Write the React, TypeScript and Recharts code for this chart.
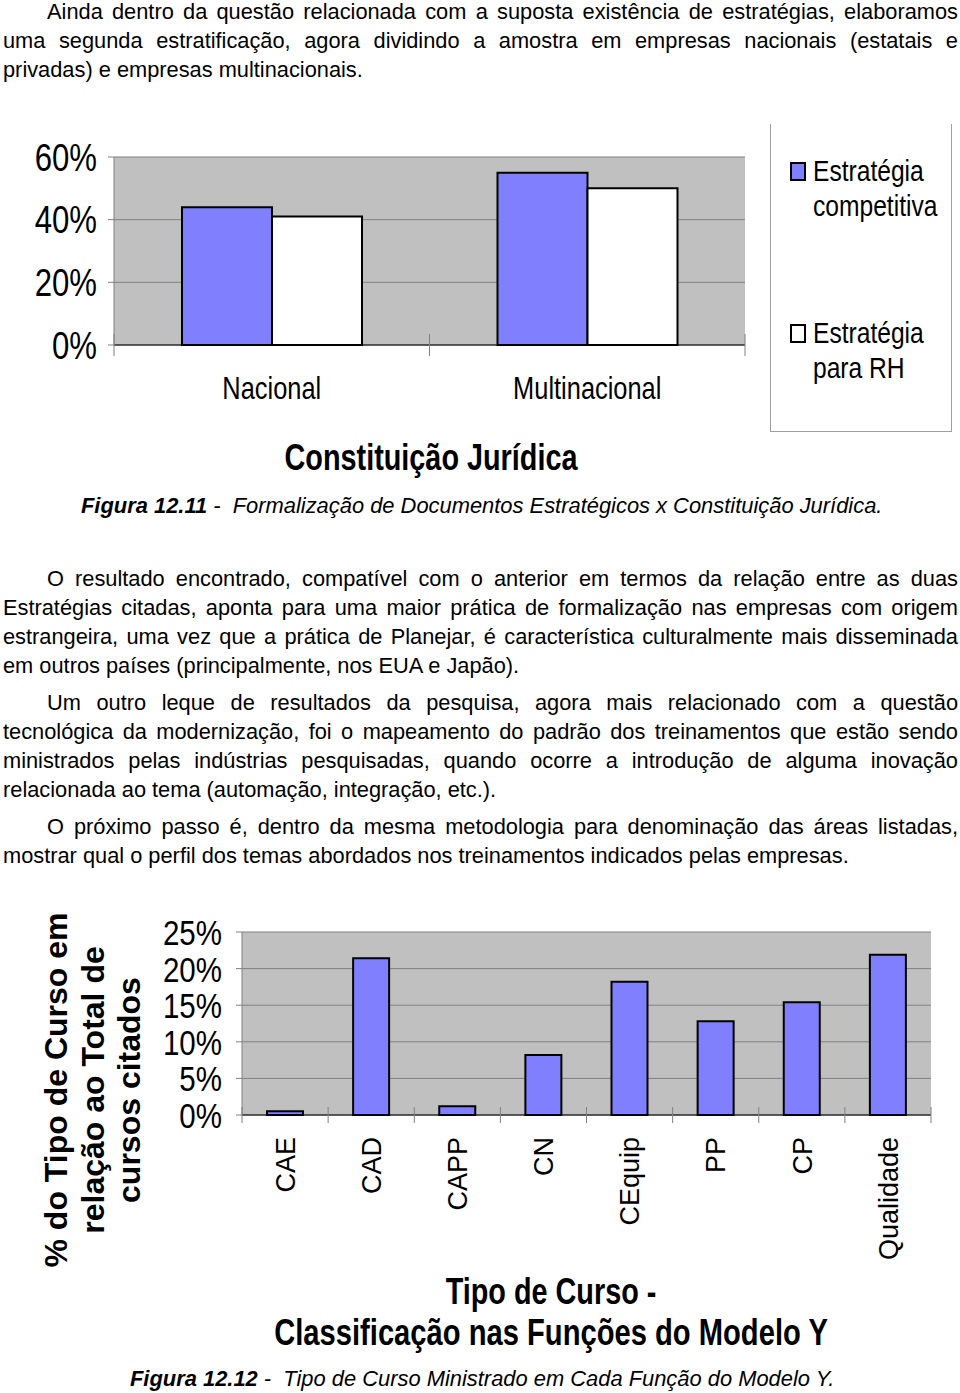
import React from 'react';
import { BarChart, Bar, XAxis, YAxis, CartesianGrid } from 'recharts';

const FONT = '"Liberation Sans", Arial, Helvetica, sans-serif';

// Figura 12.11 - Formalização x Constituição Jurídica
const tiposEmpresa = ['Nacional', 'Multinacional'];
const estrategiaCompetitiva = [44, 55];
const estrategiaRH = [41, 50];
const ticksFig11 = [0, 20, 40, 60];
const legendaFig11 = [
  ['Estratégia', 'competitiva'],
  ['Estratégia', 'para RH'],
];

// Figura 12.12 - Tipo de curso
const tiposCurso = ['CAE', 'CAD', 'CAPP', 'CN', 'CEquip', 'PP', 'CP', 'Qualidade'];
const percentCurso = [0.5, 21.4, 1.2, 8.2, 18.2, 12.8, 15.4, 21.9];
const ticksFig12 = [0, 5, 10, 15, 20, 25];

const BLUE = '#8080FF';
const PLOT_BG = '#C0C0C0';
const GRID = '#808080';

const data11 = tiposEmpresa.map((name, i) => ({
  name,
  competitiva: estrategiaCompetitiva[i],
  rh: estrategiaRH[i],
}));
const data12 = tiposCurso.map((name, i) => ({ name, valor: percentCurso[i] }));

// texto do documento
const paragrafos = [
  {
    y: [11, 40, 69],
    lines: [
      'Ainda dentro da questão relacionada com a suposta existência de estratégias, elaboramos',
      'uma segunda estratificação, agora dividindo a amostra em empresas nacionais (estatais e',
      'privadas) e empresas multinacionais.',
    ],
  },
  {
    y: [578, 607, 636, 665],
    lines: [
      'O resultado encontrado, compatível com o anterior em termos da relação entre as duas',
      'Estratégias citadas, aponta para uma maior prática de formalização nas empresas com origem',
      'estrangeira, uma vez que a prática de Planejar, é característica culturalmente mais disseminada',
      'em outros países (principalmente, nos EUA e Japão).',
    ],
  },
  {
    y: [702, 731, 760, 789],
    lines: [
      'Um outro leque de resultados da pesquisa, agora mais relacionado com a questão',
      'tecnológica da modernização, foi o mapeamento do padrão dos treinamentos que estão sendo',
      'ministrados pelas indústrias pesquisadas, quando ocorre a introdução de alguma inovação',
      'relacionada ao tema (automação, integração, etc.).',
    ],
  },
  {
    y: [826, 855],
    lines: [
      'O próximo passo é, dentro da mesma metodologia para denominação das áreas listadas,',
      'mostrar qual o perfil dos temas abordados nos treinamentos indicados pelas empresas.',
    ],
  },
];

const narrowY = (size: number) => (props: any) => {
  const { x, y, payload } = props;
  return (
    <g transform={`translate(${x},${y})`}>
      <text transform="scale(0.82,1)" textAnchor="end" dy="0.36em" fontSize={size} fontFamily={FONT} fill="#000">
        {payload.value}%
      </text>
    </g>
  );
};

// ticks nas divisas das categorias + rótulo
const catTick = (n: number, plotW: number, rotated: boolean, tk: number) => (props: any) => {
  const { x, y, payload, index } = props;
  const half = payload.offset || plotW / (2 * n);
  const last = index === n - 1;
  return (
    <g>
      <line x1={x - half} x2={x - half} y1={y - tk} y2={y + tk} stroke={GRID} />
      {last && <line x1={x + half} x2={x + half} y1={y - tk} y2={y + tk} stroke={GRID} />}
      {rotated ? (
        <text
          transform={`translate(${x},${y + 22}) rotate(-90)`}
          textAnchor="end"
          dy="0.36em"
          fontSize={27}
          fontFamily={FONT}
          fill="#000"
        >
          {payload.value}
        </text>
      ) : (
        <g transform={`translate(${x},${y + 43})`}>
          <text transform="scale(0.82,1)" textAnchor="middle" dy="0.36em" fontSize={31} fontFamily={FONT} fill="#000">
            {payload.value}
          </text>
        </g>
      )}
    </g>
  );
};

const abs = (left: number, top: number, extra: React.CSSProperties = {}): React.CSSProperties => ({
  position: 'absolute',
  left,
  top,
  ...extra,
});

const narrowText = (cx: number, cy: number, size: number, bold: boolean, text: string, sx = 0.8) => (
  <div
    style={abs(cx, cy, {
      transform: `translate(-50%, -50%) scaleX(${sx})`,
      fontSize: size,
      fontWeight: bold ? 'bold' : 'normal',
      lineHeight: 1,
      whiteSpace: 'nowrap',
    })}
  >
    {text}
  </div>
);

const App: React.FC = () => {
  return (
    <div style={{ position: 'absolute', left: 0, top: 0, width: 960, height: 1393, background: '#fff', fontFamily: FONT, color: '#000', overflow: 'hidden' }}>
      {paragrafos.map((p, pi) =>
        p.lines.map((line, li) => {
          const lastLine = li === p.lines.length - 1;
          return (
            <div
              key={`${pi}-${li}`}
              style={abs(3, p.y[li] - 11, {
                width: 955 - (li === 0 ? 44 : 0),
                paddingLeft: li === 0 ? 44 : 0,
                height: 23,
                lineHeight: '23px',
                fontSize: 21.8,
                whiteSpace: 'nowrap',
                textAlign: lastLine ? 'left' : 'justify',
                textAlignLast: lastLine ? 'left' : 'justify',
              })}
            >
              {line}
            </div>
          );
        })
      )}

      {/* Figura 12.11 */}
      <div style={abs(0, 110)}>
        <BarChart width={760} height={300} data={data11} margin={{ top: 47, right: 15, bottom: 35, left: 0 }} barGap={0}>
          <CartesianGrid fill={PLOT_BG} stroke={GRID} vertical={false} />
          <XAxis
            dataKey="name"
            height={30}
            axisLine={{ stroke: '#000' }}
            tickLine={false}
            tickSize={0}
            tickMargin={0}
            interval={0}
            tick={catTick(tiposEmpresa.length, 631, false, 11)}
          />
          <YAxis
            width={114}
            domain={[0, 60]}
            ticks={ticksFig11}
            axisLine={{ stroke: GRID }}
            tickLine={{ stroke: GRID }}
            tickSize={6}
            tickMargin={11}
            tick={narrowY(38)}
          />
          <YAxis yAxisId="borda" orientation="right" width={0} domain={[0, 1]} tick={false} tickLine={false} axisLine={{ stroke: GRID }} />
          <Bar dataKey="competitiva" fill={BLUE} stroke="#000" strokeWidth={2} barSize={90} isAnimationActive={false} />
          <Bar dataKey="rh" fill="#FFFFFF" stroke="#000" strokeWidth={2} barSize={90} isAnimationActive={false} />
        </BarChart>
      </div>

      {/* legenda */}
      <div style={abs(770, 124, { width: 180, height: 307, borderLeft: '1px solid #A0A0A0', borderRight: '1px solid #A0A0A0', borderBottom: '1px solid #A0A0A0' })} />
      {legendaFig11.map((nome, i) => {
        const top = i === 0 ? 171 : 333;
        return (
          <React.Fragment key={i}>
            <div style={abs(790, top - 9, { width: 12, height: 15, border: '2px solid #000', background: i === 0 ? BLUE : '#fff' })} />
            {nome.map((t, j) => (
              <div
                key={j}
                style={abs(813, top + j * 35 - 17, {
                  fontSize: 30,
                  lineHeight: '34px',
                  whiteSpace: 'nowrap',
                  transform: 'scaleX(0.82)',
                  transformOrigin: 'left center',
                })}
              >
                {t}
              </div>
            ))}
          </React.Fragment>
        );
      })}

      {narrowText(431, 458, 36, true, 'Constituição Jurídica')}

      <div style={abs(81, 493, { fontSize: 21.9, lineHeight: '25px', fontStyle: 'italic', whiteSpace: 'nowrap' })}>
        <b>Figura 12.11</b> -&nbsp; Formalização de Documentos Estratégicos x Constituição Jurídica.
      </div>

      {/* Figura 12.12 */}
      <div style={abs(0, 880)}>
        <BarChart width={960} height={400} data={data12} margin={{ top: 52, right: 29, bottom: 135, left: 0 }}>
          <CartesianGrid fill={PLOT_BG} stroke={GRID} vertical={false} />
          <XAxis
            dataKey="name"
            height={30}
            axisLine={{ stroke: '#000' }}
            tickLine={false}
            tickSize={0}
            tickMargin={0}
            interval={0}
            tick={catTick(tiposCurso.length, 689, true, 8)}
          />
          <YAxis
            width={242}
            domain={[0, 25]}
            ticks={ticksFig12}
            axisLine={{ stroke: GRID }}
            tickLine={{ stroke: GRID }}
            tickSize={6}
            tickMargin={14}
            tick={narrowY(36)}
          />
          <YAxis yAxisId="borda" orientation="right" width={0} domain={[0, 1]} tick={false} tickLine={false} axisLine={{ stroke: GRID }} />
          <Bar dataKey="valor" fill={BLUE} stroke="#000" strokeWidth={2} barSize={36} isAnimationActive={false} />
        </BarChart>
      </div>

      {/* título do eixo Y, girado */}
      <div
        style={abs(93 - 210, 1090 - 55, {
          width: 420,
          height: 110,
          lineHeight: '36.5px',
          fontSize: 32,
          fontWeight: 'bold',
          textAlign: 'center',
          whiteSpace: 'nowrap',
          transform: 'rotate(-90deg)',
        })}
      >
        % do Tipo de Curso em
        <br />
        relação ao Total de
        <br />
        cursos citados
      </div>

      {narrowText(551, 1292, 36, true, 'Tipo de Curso -')}
      {narrowText(551, 1333, 36, true, 'Classificação nas Funções do Modelo Y', 0.81)}

      <div style={abs(130, 1366, { fontSize: 21.9, lineHeight: '25px', fontStyle: 'italic', whiteSpace: 'nowrap' })}>
        <b>Figura 12.12</b> -&nbsp; Tipo de Curso Ministrado em Cada Função do Modelo Y.
      </div>
    </div>
  );
};

export default App;
